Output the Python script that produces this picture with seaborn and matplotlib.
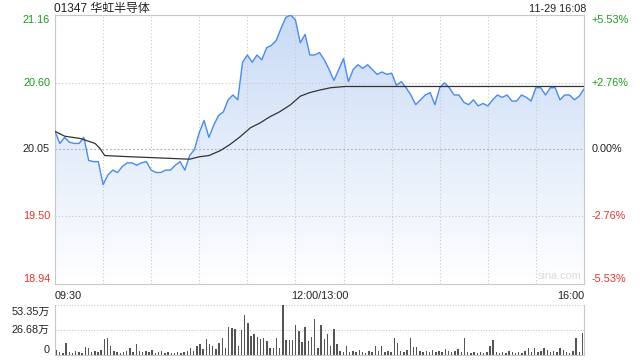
import numpy as np
import pandas as pd
import matplotlib
matplotlib.use("Agg")
import matplotlib.pyplot as plt
from matplotlib.colors import LinearSegmentedColormap
from matplotlib.patches import Polygon
import seaborn as sns

# ---------------- data ----------------
title_code = "01347"
title_name = "华虹半导体"
stamp = "11-29 16:08"
prev_close = 20.05
y_ticks = [18.94, 19.50, 20.05, 20.60, 21.16]
y_tick_labels = ["18.94", "19.50", "20.05", "20.60", "21.16"]
pct_labels = ["-5.53%", "-2.76%", "0.00%", "+2.76%", "+5.53%"]
time_labels = ["09:30", "12:00/13:00", "16:00"]
vol_ticks = [0, 26.68, 53.35]
vol_tick_labels = ["0", "26.68万", "53.35万"]

# minutes since 09:30 (trading minutes, lunch removed), every 3 minutes
price_t = list(range(0, 331, 3))
price = [20.20, 20.10, 20.15, 20.11, 20.10, 20.10, 20.15, 19.96, 19.95, 19.95,
         19.76, 19.84, 19.88, 19.86, 19.91, 19.94, 19.94, 19.92, 19.94, 19.95,
         19.88, 19.86, 19.86, 19.88, 19.88, 19.92, 19.95, 19.88, 20.00, 20.05,
         20.19, 20.29, 20.15, 20.25, 20.33, 20.36, 20.46, 20.50, 20.46, 20.77,
         20.83, 20.77, 20.83, 20.79, 20.89, 20.91, 20.95, 21.05, 21.14, 21.16,
         21.12, 20.93, 21.00, 20.83, 20.83, 20.85, 20.79, 20.71, 20.62, 20.71,
         20.80, 20.61, 20.71, 20.75, 20.72, 20.75, 20.71, 20.67, 20.69, 20.67,
         20.68, 20.58, 20.61, 20.56, 20.50, 20.42, 20.46, 20.50, 20.52, 20.42,
         20.56, 20.60, 20.56, 20.50, 20.50, 20.44, 20.42, 20.46, 20.41, 20.43,
         20.41, 20.46, 20.50, 20.48, 20.50, 20.45, 20.45, 20.50, 20.48, 20.45,
         20.56, 20.56, 20.50, 20.56, 20.56, 20.46, 20.50, 20.50, 20.46, 20.49,
         20.55]

avg_t = [0, 6, 16, 25, 28, 31, 47, 66, 84, 90, 96, 103, 109, 115, 122, 128,
         134, 140, 147, 153, 159, 165, 172, 181, 203, 330]
avg_price = [20.20, 20.16, 20.14, 20.10, 20.06, 20.00, 19.99, 19.98, 19.97, 19.99,
             20.00, 20.04, 20.09, 20.15, 20.23, 20.27, 20.32, 20.36, 20.42, 20.49,
             20.52, 20.54, 20.56, 20.57, 20.57, 20.57]

# volume (万股) every 2 minutes
vol_t = list(range(0, 331, 2))
volume = [5, 3, 2, 13, 3, 2, 4, 3, 2, 9,
          8, 3, 4, 3, 5, 17, 18, 10, 4, 3,
          2, 3, 4, 8, 3, 12, 4, 3, 4, 3,
          5, 2, 3, 4, 2, 3, 2, 2, 3, 2,
          3, 4, 7, 4, 10, 12, 6, 17, 12, 10,
          6, 13, 18, 8, 30, 29, 28, 10, 27, 43,
          34, 20, 22, 19, 17, 18, 15, 8, 7, 18,
          7, 53.35, 16, 16, 16, 32, 26, 14, 30, 15,
          19, 38, 8, 32, 17, 22, 10, 28, 12, 4,
          3, 10, 3, 4, 3, 5, 3, 2, 4, 3,
          10, 4, 10, 3, 4, 3, 18, 13, 4, 3,
          5, 18, 9, 9, 4, 3, 4, 3, 5, 3,
          4, 3, 6, 4, 3, 4, 6, 3, 18, 3,
          2, 3, 2, 3, 2, 3, 10, 16, 3, 2,
          3, 2, 4, 3, 2, 3, 2, 4, 8, 3,
          7, 3, 4, 7, 5, 3, 4, 3, 8, 5,
          3, 2, 4, 18, 3, 23]

# ---------------- style ----------------
sns.set_style("white")
plt.rcParams["font.family"] = ["Liberation Sans", "Noto Sans CJK SC", "DejaVu Sans"]

GREEN = "#1a9c1a"
RED = "#e8332a"
BLACK = "#222222"
GRID = "#c8c8c8"
BORDER = "#c8c8c8"
FS = 7.8

fig = plt.figure(figsize=(6.4, 3.6), dpi=100)
ax = fig.add_axes([55 / 640, 1 - 284 / 360, 529 / 640, 269 / 360])
axv = fig.add_axes([55 / 640, 1 - 355 / 360, 529 / 640, 50 / 360])

ymin, ymax = y_ticks[0], y_ticks[-1]
df = pd.DataFrame({"t": price_t, "price": price})
dfa = pd.DataFrame({"t": avg_t, "avg": avg_price})

# gradient fill under price line
cmap = LinearSegmentedColormap.from_list("fill", ["#ffffff", "#c9dbf6"])
grad = np.linspace(0, 1, 256).reshape(-1, 1)
im = ax.imshow(grad, extent=[0, 330, ymin, ymax], origin="lower", aspect="auto",
               cmap=cmap, zorder=1)
verts = [(price_t[0], ymin)] + list(zip(price_t, price)) + [(price_t[-1], ymin)]
poly = Polygon(verts, closed=True, facecolor="none", edgecolor="none")
ax.add_patch(poly)
im.set_clip_path(poly)

# grid (drawn above the fill)
for v in range(30, 330, 30):
    ax.axvline(v, color=GRID, lw=0.8, ls=(0, (1, 2)), zorder=2)
for yv in y_ticks[1:-1]:
    ax.axhline(yv, color="#aaaaaa" if yv == prev_close else GRID, lw=0.8,
               ls=(0, (1.5, 2)) if yv == prev_close else (0, (1, 2)), zorder=2)

sns.lineplot(data=df, x="t", y="price", ax=ax, color="#4a8bef", lw=1.0, zorder=3)
sns.lineplot(data=dfa, x="t", y="avg", ax=ax, color="#333333", lw=0.9, zorder=4)

ax.set_xlim(0, 330)
ax.set_ylim(ymin, ymax)
ax.set_xticks([])
ax.set_yticks([])
ax.set_xlabel("")
ax.set_ylabel("")
for s in ax.spines.values():
    s.set_color(BORDER)
    s.set_linewidth(0.8)

# y labels left and right
colors = [RED, RED, BLACK, GREEN, GREEN]
vas = ["bottom", "center", "center", "center", "top"]
for yv, lab, pl, c, va in zip(y_ticks, y_tick_labels, pct_labels, colors, vas):
    ax.text(-5 / 529, yv, lab, transform=ax.get_yaxis_transform(), ha="right",
            va=va, color=c, fontsize=FS)
    ax.text(1 + 8 / 529, yv, pl, transform=ax.get_yaxis_transform(), ha="left",
            va=va, color=c, fontsize=FS)

# time labels
ax.text(0, -0.025, time_labels[0], transform=ax.transAxes, ha="left", va="top",
        fontsize=FS, color=BLACK)
ax.text(0.5, -0.025, time_labels[1], transform=ax.transAxes, ha="center", va="top",
        fontsize=FS, color=BLACK)
ax.text(1, -0.025, time_labels[2], transform=ax.transAxes, ha="right", va="top",
        fontsize=FS, color=BLACK)

# watermark
ax.text(0.995, 0.01, "sina.com", transform=ax.transAxes, ha="right", va="bottom",
        fontsize=FS, color="#dddddd", zorder=5)

# title
fig.text(54 / 640, 1 - 9 / 360, f"{title_code} {title_name}", ha="left", va="center",
         fontsize=8.6, color=BLACK)
fig.text(586 / 640, 1 - 9 / 360, stamp, ha="right", va="center", fontsize=FS, color=BLACK)

# volume
dfv = pd.DataFrame({"t": vol_t, "vol": volume})
sns.barplot(data=dfv, x="t", y="vol", ax=axv, native_scale=True, color="#555555",
            width=0.45, errorbar=None, saturation=1, edgecolor="none", zorder=3)
axv.set_xlim(-1, 331)
axv.set_ylim(0, vol_ticks[-1])
axv.set_xticks([])
axv.set_yticks([])
axv.set_xlabel("")
axv.set_ylabel("")
for k in ["left", "right", "bottom"]:
    axv.spines[k].set_color(BORDER)
    axv.spines[k].set_linewidth(0.8)
axv.spines["top"].set_visible(False)
for yv in vol_ticks[1:]:
    axv.axhline(yv, color=GRID, lw=0.8, ls=(0, (1, 1.5)), zorder=0.5, clip_on=False)
vvas = ["bottom", "center", "top"]
for yv, lab, va in zip(vol_ticks, vol_tick_labels, vvas):
    axv.text(-5 / 529, yv if va != "top" else yv - 2, lab,
             transform=axv.get_yaxis_transform(), ha="right", va=va,
             color=BLACK, fontsize=FS)

fig.savefig("out.png", dpi=100)
